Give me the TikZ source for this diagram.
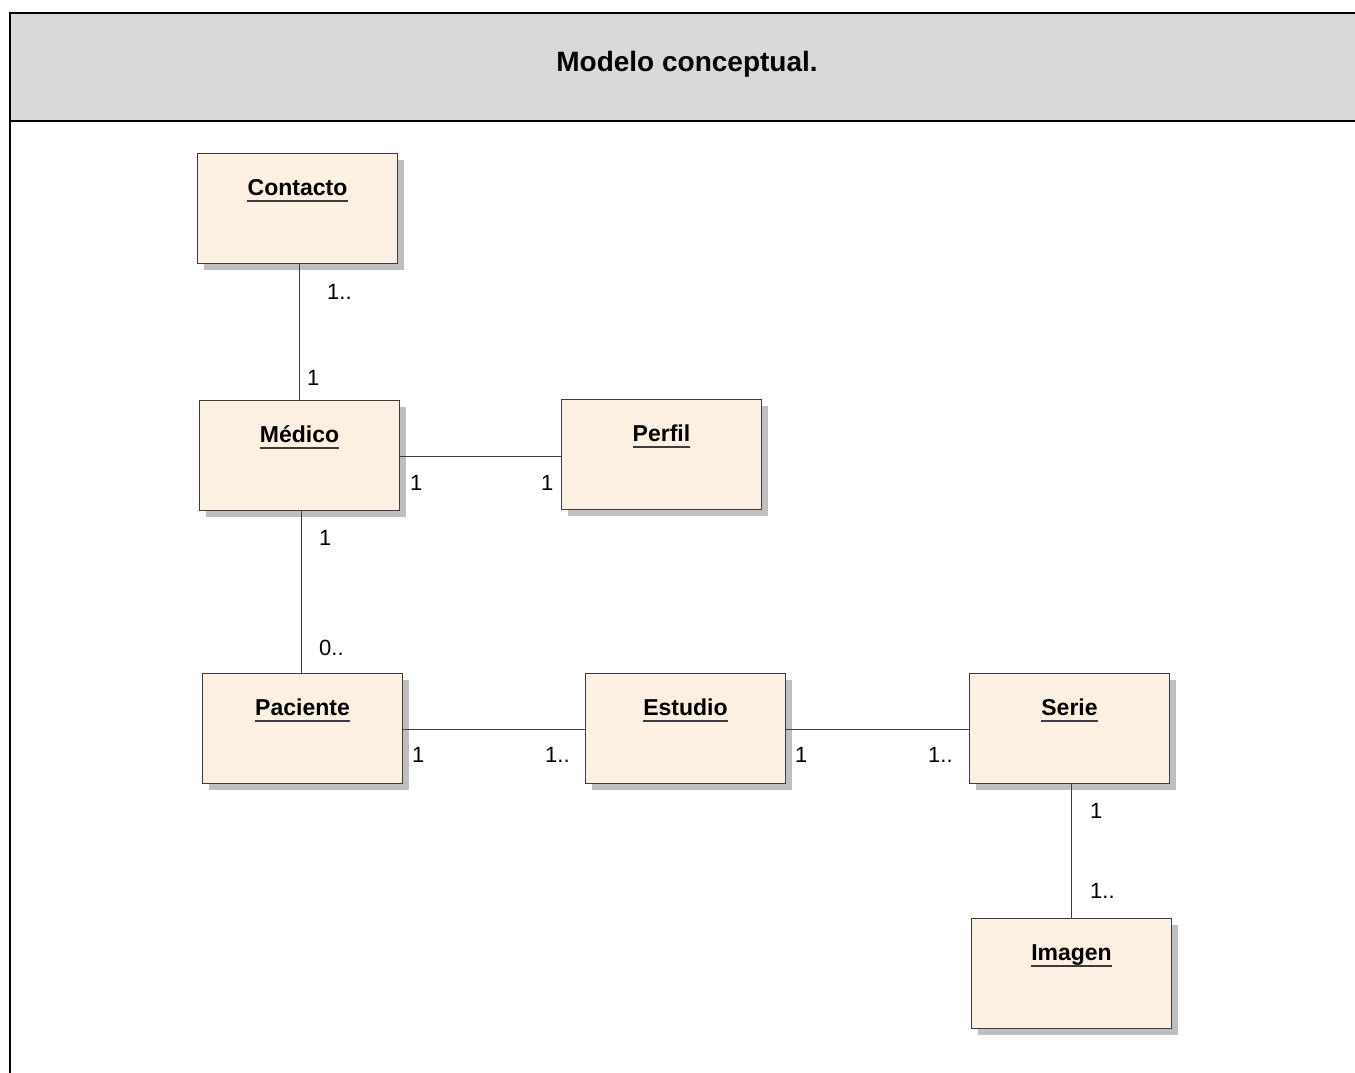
\documentclass[tikz,border=0pt]{standalone}
\usepackage{fontspec}
\setmainfont[Ligatures=NoCommon]{Liberation Sans}
\usetikzlibrary{shadows}

\definecolor{headgray}{RGB}{217,217,217}
\definecolor{classfill}{RGB}{251,240,225}
\definecolor{shadowgray}{RGB}{191,191,191}
\definecolor{edgegray}{RGB}{60,60,60}
\definecolor{linkgray}{RGB}{60,60,60}

\tikzset{
  frameline/.style={draw=black, line width=2pt},
  classbox/.style={draw=edgegray, line width=1pt, fill=classfill,
    minimum width=200pt, minimum height=110pt, inner sep=0pt, anchor=north west,
    general shadow={shadow xshift=6pt, shadow yshift=-6pt, fill=shadowgray}},
  classtitle/.style={inner sep=0pt, anchor=base,
    font=\fontsize{23}{27}\selectfont\bfseries},
  titleline/.style={draw=edgegray, line width=1.5pt},
  assoc/.style={draw=linkgray, line width=1.5pt},
  mult/.style={inner sep=0pt, anchor=base west, font=\fontsize{22}{26}\selectfont},
}

% class box with underlined name
\newcommand{\umlclass}[4]{%
  \node[classbox] (#1) at (#2,#3) {};
  \node[classtitle] (#1-t) at ([yshift=-42pt]#1.north) {#4};
  \draw[titleline] ([yshift=-6pt]#1-t.base west) -- ([yshift=-6pt]#1-t.base east);
}

\begin{document}
\begin{tikzpicture}[x=1pt, y=-1pt]
  \useasboundingbox (0,0) rectangle (1355,1072);
  \clip (0,0) rectangle (1355,1072);

  % frame and heading
  \path[frameline, fill=headgray] (10,13) rectangle (1370,121);
  \path[frameline] (10,121) rectangle (1370,1090);
  \node[inner sep=0pt, anchor=base, font=\fontsize{28}{33}\selectfont\bfseries]
    (heading) at (687,71) {Modelo conceptual.};

  % classes
  \umlclass{contacto}{197}{153}{Contacto}
  \umlclass{medico}{199}{400}{Médico}
  \umlclass{perfil}{561}{399}{Perfil}
  \umlclass{paciente}{202}{673}{Paciente}
  \umlclass{estudio}{585}{673}{Estudio}
  \umlclass{serie}{969}{673}{Serie}
  \umlclass{imagen}{971}{918}{Imagen}

  % associations
  \draw[assoc] (medico.north |- contacto.south) -- (medico.north);
  \draw[assoc] ([yshift=-1pt]medico.east) -- ([yshift=-1pt]medico.east -| perfil.west);
  \draw[assoc] ([xshift=2pt]medico.south) -- ([xshift=2pt]medico.south |- paciente.north);
  \draw[assoc] ([yshift=-1pt]paciente.east) -- ([yshift=-1pt]paciente.east -| estudio.west);
  \draw[assoc] ([yshift=-1pt]estudio.east) -- ([yshift=-1pt]estudio.east -| serie.west);
  \draw[assoc] (imagen.north |- serie.south) -- (imagen.north);

  % multiplicities
  \node[mult] (m1) at (327,299) {1..};
  \node[mult] (m2) at (307,385) {1};
  \node[mult] (m3) at (410,490) {1};
  \node[mult] (m4) at (541,490) {1};
  \node[mult] (m5) at (319,545) {1};
  \node[mult] (m6) at (319,655) {0..};
  \node[mult] (m7) at (412,762) {1};
  \node[mult] (m8) at (545,762) {1..};
  \node[mult] (m9) at (795,762) {1};
  \node[mult] (m10) at (928,762) {1..};
  \node[mult] (m11) at (1090,818) {1};
  \node[mult] (m12) at (1090,898) {1..};
\end{tikzpicture}
\end{document}
